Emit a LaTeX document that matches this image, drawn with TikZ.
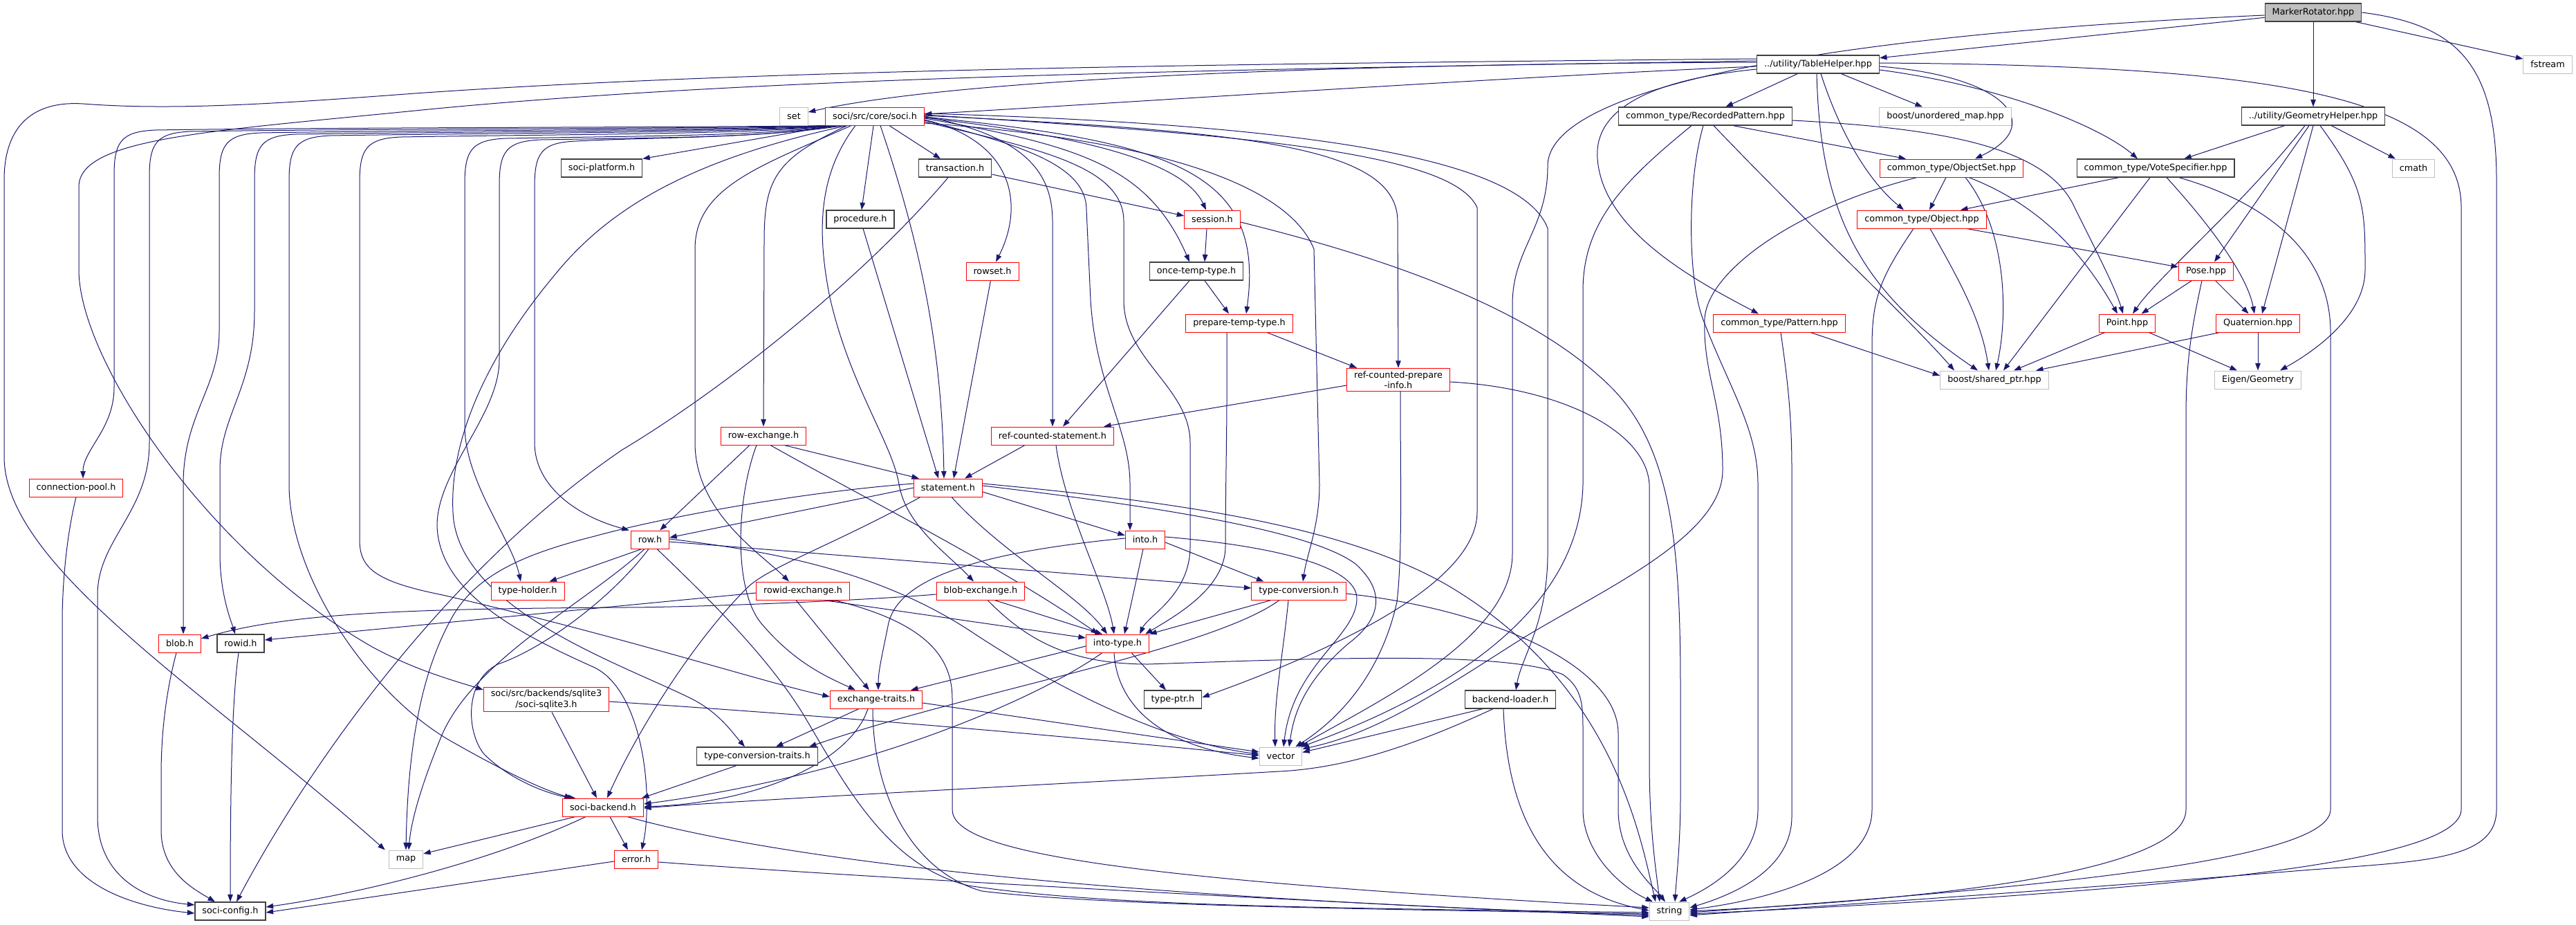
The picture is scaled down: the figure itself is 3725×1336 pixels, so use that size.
\documentclass[tikz,border=0pt]{standalone}
\usepackage{fontspec}
\newfontfamily\dv{DejaVu Sans}
\usetikzlibrary{arrows.meta}
\definecolor{mblue}{HTML}{191970}
\definecolor{dred}{HTML}{FF0000}
\definecolor{dgray}{HTML}{BFBFBF}
\definecolor{dblack}{HTML}{404040}
\definecolor{mrfill}{HTML}{BFBFBF}
\pgfdeclarelayer{bg}
\pgfsetlayers{bg,main}
\tikzset{
  box/.style={draw, line width=1pt, minimum height=26pt, inner xsep=10.5pt, inner ysep=4pt, fill=white, font={\dv\fontsize{12.8}{15.5}\selectfont}, align=center, text=black},
  rb/.style={box, draw=dred},
  kb/.style={box, draw=dblack, line width=1.2pt},
  gb/.style={box, draw=dgray},
  edg/.style={color=mblue, line width=1pt, -{Triangle[length=10.5pt,width=7.5pt]}, line join=round},
}
\begin{document}
\begin{tikzpicture}[x=1pt,y=-1pt]
\useasboundingbox (0,0) rectangle (3725,1336);
% ---------- nodes ----------
\node[kb,fill=mrfill] (MR) at (3345,18) {MarkerRotator.hpp};
\node[gb] (fst) at (3684,93) {fstream};
\node[kb] (TH) at (2629,93) {../utility/TableHelper.hpp};
\node[kb] (GH) at (3345,168) {../utility/GeometryHelper.hpp};
\node[gb] (set) at (1148,168) {set};
\node[rb] (SO) at (1265,168) {soci/src/core/soci.h};
\node[kb] (RP) at (2466,168) {common\_type/RecordedPattern.hpp};
\node[gb] (UM) at (2813,168) {boost/unordered\_map.hpp};
\node[kb] (SP) at (870,243) {soci-platform.h};
\node[kb] (TR) at (1381,243) {transaction.h};
\node[rb] (OS) at (2822,243) {common\_type/ObjectSet.hpp};
\node[kb] (VS) at (3117,243) {common\_type/VoteSpecifier.hpp};
\node[gb] (cm) at (3490,243) {cmath};
\node[kb] (PR) at (1244,317) {procedure.h};
\node[rb] (SE) at (1753,317) {session.h};
\node[rb] (OB) at (2779,317) {common\_type/Object.hpp};
\node[rb] (RS) at (1435,392) {rowset.h};
\node[kb] (OT) at (1730,392) {once-temp-type.h};
\node[rb] (PO) at (3190,392) {Pose.hpp};
\node[rb] (PT) at (1792,467) {prepare-temp-type.h};
\node[rb] (PA) at (2573,467) {common\_type/Pattern.hpp};
\node[rb] (PN) at (3076,467) {Point.hpp};
\node[rb] (QU) at (3265,467) {Quaternion.hpp};
\node[rb] (RCPI) at (2022,549) {ref-counted-prepare\\-info.h};
\node[gb] (SPT) at (2884,549) {boost/shared\_ptr.hpp};
\node[gb] (EG) at (3265,549) {Eigen/Geometry};
\node[rb] (RX) at (1104,630) {row-exchange.h};
\node[rb] (RCS) at (1522,630) {ref-counted-statement.h};
\node[rb] (CP) at (110,705) {connection-pool.h};
\node[rb] (ST) at (1371,705) {statement.h};
\node[rb] (ROW) at (940,780) {row.h};
\node[rb] (INTO) at (1656,780) {into.h};
\node[rb] (THD) at (763,854) {type-holder.h};
\node[rb] (RIX) at (1161,854) {rowid-exchange.h};
\node[rb] (BX) at (1418,854) {blob-exchange.h};
\node[rb] (TC) at (1878,854) {type-conversion.h};
\node[rb] (BLOB) at (260,930) {blob.h};
\node[kb] (RID) at (348,930) {rowid.h};
\node[rb] (IT) at (1616,930) {into-type.h};
\node[rb] (SQL) at (790,1011) {soci/src/backends/sqlite3\\/soci-sqlite3.h};
\node[rb] (EX) at (1267,1011) {exchange-traits.h};
\node[kb] (TP) at (1696,1011) {type-ptr.h};
\node[kb] (BL) at (2184,1011) {backend-loader.h};
\node[kb] (TCT) at (1095,1093) {type-conversion-traits.h};
\node[gb] (VEC) at (1852,1093) {vector};
\node[rb] (SB) at (872,1167) {soci-backend.h};
\node[gb] (MAP) at (587,1242) {map};
\node[rb] (ERR) at (920,1242) {error.h};
\node[kb] (SC) at (333,1317) {soci-config.h};
\node[gb] (STR) at (2414,1317) {string};
% ---------- edges ----------
\begin{pgfonlayer}{bg}
\fill[white] (0,0) rectangle (3725,1336);
% MarkerRotator
\draw[edg] (MR) -- (TH);
\draw[edg] (MR) -- (GH);
\draw[edg] (MR) -- (fst);
\draw[edg] (MR.east) .. controls (3550,35) and (3610,90) .. (3610,260) -- (3610,1170) .. controls (3610,1245) and (3500,1245) .. (3330,1258) .. controls (3000,1285) and (2700,1305) .. ([yshift=-6pt]STR.east);
\draw[edg] ([yshift=-4pt]MR.west) .. controls (2750,45) and (2238,110) .. (2238,240) .. controls (2238,330) and (2187,360) .. (2187,440) -- (2187,800) .. controls (2187,920) and (2000,1010) .. ([xshift=-6pt]VEC.north east);
% TableHelper
\draw[edg] ([yshift=3pt]TH.west) .. controls (2000,92) and (1400,110) .. ([yshift=6pt]set.east);
\draw[edg] ([yshift=-3pt]TH.west) .. controls (2200,110) and (1600,150) .. ([yshift=3pt]SO.east);
\draw[edg] (TH) -- (RP);
\draw[edg] (TH) -- (UM);
\draw[edg] ([yshift=-3pt]TH.east) .. controls (2900,110) and (2960,180) .. ([xshift=34pt]OS.north);
\draw[edg] ([yshift=-8pt]TH.east) .. controls (2900,125) and (3040,185) .. ([xshift=-26pt]VS.north);
\draw[edg] ([xshift=4pt]TH.south) .. controls (2660,190) and (2700,260) .. ([xshift=-26pt]OB.north);
\draw[edg] ([xshift=-2pt]TH.south) .. controls (2632,310) and (2690,420) .. ([xshift=-24pt]SPT.north);
\draw[edg] ([yshift=-7pt]TH.west) .. controls (2360,118) and (2305,170) .. (2310,230) .. controls (2318,330) and (2440,400) .. ([xshift=-30pt]PA.north);
\draw[edg] ([yshift=2pt]TH.east) .. controls (3300,95) and (3559,140) .. (3559,300) -- (3559,1170) .. controls (3559,1250) and (3100,1290) .. ([yshift=-4pt]STR.east);
\draw[edg] ([yshift=8pt]TH.west) .. controls (1800,92) and (1100,100) .. (600,135) .. controls (400,150) and (250,160) .. (120,150) .. controls (40,145) and (6,190) .. (6,260) -- (6,660) .. controls (6,820) and (300,1000) .. ([xshift=-5pt]MAP.north west);
\draw[edg] ([yshift=5pt]TH.west) .. controls (1800,100) and (1100,110) .. (600,160) .. controls (300,190) and (114,200) .. (114,270) -- (114,390) .. controls (114,520) and (300,800) .. (540,936) .. controls (600,968) and (650,982) .. ([yshift=14pt]SQL.west);
% GeometryHelper
\draw[edg] (GH) -- (VS);
\draw[edg] (GH) -- (cm);
\draw[edg] ([xshift=-12pt]GH.south) .. controls (3240,300) and (3120,400) .. ([xshift=8pt]PN.north);
\draw[edg] ([xshift=-6pt]GH.south) -- ([xshift=12pt]PO.north);
\draw[edg] (GH.south) -- ([xshift=6pt]QU.north);
\draw[edg] ([xshift=10pt]GH.south) .. controls (3420,270) and (3420,300) .. (3420,390) .. controls (3420,450) and (3360,500) .. ([xshift=32pt]EG.north);
% RecordedPattern
\draw[edg] ([xshift=40pt]RP.south) -- ([xshift=-66pt]OS.north);
\draw[edg] ([yshift=-6pt]RP.east) .. controls (2800,185) and (2960,210) .. (3000,300) .. controls (3040,380) and (3060,420) .. ([xshift=-6pt]PN.north);
\draw[edg] ([xshift=12pt]RP.south) .. controls (2620,330) and (2760,460) .. ([xshift=-58pt]SPT.north);
\draw[edg] ([xshift=-3pt]RP.south) .. controls (2440,260) and (2440,400) .. (2462,460) .. controls (2500,560) and (2542,620) .. (2542,700) -- (2542,1170) .. controls (2542,1240) and (2480,1280) .. ([xshift=14pt]STR.north);
\draw[edg] ([xshift=-20pt]RP.south) .. controls (2350,260) and (2289,320) .. (2289,420) -- (2289,700) .. controls (2285,880) and (2100,1000) .. ([xshift=-2pt]VEC.north east);
% ObjectSet
\draw[edg] ([xshift=-8pt]OS.south) -- ([xshift=11pt]OB.north);
\draw[edg] ([xshift=20pt]OS.south) .. controls (2900,330) and (2905,450) .. ([xshift=2pt]SPT.north);
\draw[edg] ([xshift=25pt]OS.south) .. controls (2960,300) and (3020,380) .. ([xshift=-14pt]PN.north);
\draw[edg] ([xshift=-50pt]OS.south) .. controls (2600,300) and (2470,390) .. (2465,460) .. controls (2462,540) and (2491,580) .. (2491,680) .. controls (2491,780) and (2300,860) .. (2190,930) .. controls (2080,1000) and (1990,1060) .. ([yshift=-3pt]VEC.north east);
% VoteSpecifier
\draw[edg] ([xshift=-53pt]VS.south) -- ([xshift=56pt]OB.north);
\draw[edg] ([xshift=-8pt]VS.south) -- ([xshift=13pt]SPT.north);
\draw[edg] ([xshift=16pt]VS.south) .. controls (3200,330) and (3250,400) .. ([xshift=-5pt]QU.north);
\draw[edg] ([xshift=34pt]VS.south) .. controls (3300,300) and (3370,380) .. (3370,480) -- (3370,1170) .. controls (3370,1240) and (3000,1280) .. ([yshift=-2pt]STR.east);
% Object
\draw[edg] ([xshift=12pt]OB.south) .. controls (2830,400) and (2865,460) .. ([xshift=-8pt]SPT.north);
\draw[edg] ([xshift=65pt]OB.south) -- ([yshift=6pt]PO.west);
\draw[edg] ([xshift=-12pt]OB.south) .. controls (2720,400) and (2707,430) .. (2707,500) -- (2707,1170) .. controls (2707,1260) and (2560,1300) .. ([yshift=2pt]STR.east);
% Pose, Point, Quaternion, Pattern
\draw[edg] (PO) -- (PN);
\draw[edg] (PO) -- (QU);
\draw[edg] ([xshift=-6pt]PO.south) .. controls (3170,470) and (3161,520) .. (3161,600) -- (3161,1170) .. controls (3161,1260) and (2800,1300) .. (STR.east);
\draw[edg] (PN) -- ([xshift=28pt]SPT.north);
\draw[edg] (PN) -- ([xshift=-30pt]EG.north);
\draw[edg] ([xshift=-55pt]QU.south) -- ([xshift=60pt]SPT.north);
\draw[edg] (QU) -- (EG);
\draw[edg] ([xshift=45pt]PA.south) -- ([yshift=6pt]SPT.west);
\draw[edg] ([xshift=2pt]PA.south) .. controls (2585,550) and (2591,600) .. (2591,680) -- (2591,1180) .. controls (2591,1260) and (2500,1295) .. ([yshift=5pt]STR.east);
% soci.h
\draw[edg] ([xshift=-60pt]SO.south) -- (SP.north east);
\draw[edg] (SO) -- (TR);
\draw[edg] (SO) -- (PR);
\draw[edg] ([yshift=-2pt]SO.east) .. controls (1550,195) and (1710,230) .. ([xshift=-9pt]SE.north);
\draw[edg] ([yshift=-5pt]SO.east) .. controls (1470,205) and (1480,300) .. ([xshift=5pt]RS.north);
\draw[edg] ([yshift=-3pt]SO.east) .. controls (1560,210) and (1660,240) .. ([xshift=-10pt]OT.north);
\draw[edg] ([yshift=-1pt]SO.east) .. controls (1700,205) and (1830,250) .. ([xshift=10pt]PT.north);
\draw[edg] ([yshift=1pt]SO.east) .. controls (1800,190) and (2021,210) .. (2021,320) -- (RCPI.north);
\draw[edg] (SO.east) .. controls (1470,195) and (1522,240) .. (1522,320) -- (RCS.north);
\draw[edg] ([xshift=8pt]SO.south) .. controls (1330,350) and (1362,500) .. ([xshift=-6pt]ST.north);
\draw[edg] ([xshift=-40pt]SO.south) .. controls (1120,230) and (1105,260) .. (1105,350) -- (RX.north);
\draw[edg] ([xshift=-34pt]SO.south) .. controls (1100,240) and (1005,270) .. (1005,360) -- (1005,640) .. controls (1005,740) and (1100,800) .. ([xshift=-20pt]RIX.north);
\draw[edg] ([xshift=-28pt]SO.south) .. controls (1185,250) and (1180,330) .. (1200,430) .. controls (1230,560) and (1290,640) .. (1300,700) .. controls (1310,760) and (1370,800) .. ([xshift=-10pt]BX.north);
\draw[edg] (SO.south west) .. controls (1100,184) and (465,184) .. (225,188) .. controls (175,190) and (165,205) .. (165,254) -- (165,560) .. controls (165,620) and (120,650) .. ([xshift=10pt]CP.north);
\draw[edg] ([xshift=3pt]SO.south west) .. controls (1100,186) and (516,186) .. (276,190) .. controls (226,192) and (216,207) .. (216,256) -- (216,640) .. controls (216,740) and (141,780) .. (141,860) -- (141,1180) .. controls (141,1260) and (200,1300) .. ([yshift=9pt]SC.west);
\draw[edg] ([xshift=6pt]SO.south west) .. controls (1100,188) and (617,188) .. (377,192) .. controls (327,194) and (317,209) .. (317,258) -- (317,480) .. controls (317,560) and (265,600) .. (265,700) -- ([xshift=5pt]BLOB.north);
\draw[edg] ([xshift=9pt]SO.south west) .. controls (1100,190) and (668,190) .. (428,194) .. controls (378,196) and (368,211) .. (368,260) -- (368,450) .. controls (368,560) and (318,600) .. (318,680) -- (318,800) .. controls (318,860) and (335,900) .. ([xshift=-8pt]RID.north);
\draw[edg] ([xshift=12pt]SO.south west) .. controls (1100,192) and (718,192) .. (478,196) .. controls (428,198) and (418,213) .. (418,262) -- (418,700) .. controls (418,830) and (530,1000) .. (650,1070) .. controls (720,1110) and (780,1140) .. ([xshift=-45pt]SB.north);
\draw[edg] ([xshift=15pt]SO.south west) .. controls (1100,194) and (820,194) .. (580,198) .. controls (530,200) and (520,215) .. (520,264) -- (520,780) .. controls (520,820) and (540,840) .. (640,860) .. controls (900,920) and (1100,985) .. ([yshift=4pt]EX.west);
\draw[edg] ([xshift=18pt]SO.south west) .. controls (1100,196) and (972,196) .. (732,200) .. controls (682,202) and (672,217) .. (672,266) -- (672,620) .. controls (675,700) and (740,780) .. ([xshift=-10pt]THD.north);
\draw[edg] ([xshift=21pt]SO.south west) .. controls (1100,198) and (1022,198) .. (782,202) .. controls (732,204) and (722,219) .. (722,268) -- (722,520) .. controls (722,600) and (632,680) .. (632,760) .. controls (635,860) and (760,920) .. (860,965) .. controls (930,1000) and (945,1150) .. ([xshift=8pt]ERR.north);
\draw[edg] ([xshift=27pt]SO.south west) .. controls (1100,200) and (950,198) .. (833,204) .. controls (783,206) and (773,221) .. (773,270) -- (773,640) .. controls (773,700) and (830,745) .. ([xshift=-2pt]ROW.north west);
\draw[edg] ([xshift=32pt]SO.south west) .. controls (1000,230) and (880,300) .. (800,400) .. controls (700,520) and (650,640) .. (655,740) .. controls (660,880) and (900,960) .. (1000,1010) .. controls (1040,1030) and (1060,1060) .. ([xshift=-18pt]TCT.north);
\draw[edg] ([yshift=-6pt]SO.east) .. controls (1480,210) and (1571,240) .. (1571,303) -- (1577,434) .. controls (1585,560) and (1634,620) .. (1634,700) -- ([xshift=-22pt]INTO.north);
\draw[edg] ([yshift=-8pt]SO.east) .. controls (1500,215) and (1625,240) .. (1625,320) -- (1625,434) .. controls (1625,520) and (1721,560) .. (1721,640) -- (1721,790) .. controls (1721,860) and (1660,890) .. ([xshift=-14pt]IT.north east);
\draw[edg] ([yshift=-10pt]SO.east) .. controls (1650,200) and (1860,260) .. (1900,360) -- (1908,700) .. controls (1908,760) and (1890,800) .. ([xshift=6pt]TC.north);
\draw[edg] ([yshift=2pt]SO.east) .. controls (1800,195) and (2100,220) .. (2136,300) -- (2136,740) .. controls (2136,850) and (1900,950) .. ([yshift=3pt]TP.east);
\draw[edg] ([yshift=4pt]SO.east) .. controls (1900,180) and (2200,230) .. (2238,330) -- (2238,800) .. controls (2238,900) and (2200,950) .. ([xshift=8pt]BL.north);
% transaction, procedure, rowset, session
\draw[edg] ([yshift=-9pt]TR.east) -- ([yshift=5pt]SE.west);
\draw[edg] ([xshift=-10pt]TR.south) .. controls (1250,400) and (1050,560) .. (900,650) .. controls (650,820) and (450,1100) .. ([xshift=9pt]SC.north);
\draw[edg] (PR) -- ([xshift=-14pt]ST.north);
\draw[edg] (RS) -- ([xshift=8pt]ST.north);
\draw[edg] ([xshift=-8pt]SE.south) -- ([xshift=12pt]OT.north);
\draw[edg] ([yshift=-4pt]SE.east) .. controls (1950,360) and (2200,430) .. (2330,560) .. controls (2420,650) and (2430,800) .. (2430,1000) -- (2430,1150) .. controls (2430,1220) and (2424,1270) .. ([xshift=8pt]STR.north);
% once-temp, prepare-temp, ref-counted
\draw[edg] ([xshift=12pt]OT.south) -- ([xshift=-15pt]PT.north);
\draw[edg] ([xshift=-10pt]OT.south) -- ([xshift=15pt]RCS.north);
\draw[edg] ([xshift=40pt]PT.south) -- ([xshift=15pt]RCPI.north west);
\draw[edg] ([xshift=-18pt]PT.south) .. controls (1775,600) and (1772,700) .. (1772,790) .. controls (1772,850) and (1700,890) .. ([xshift=-6pt]IT.north east);
\draw[edg] ([yshift=-8pt]RCPI.west) -- ([xshift=-15pt]RCS.north east);
\draw[edg] ([xshift=3pt]RCPI.south) .. controls (2025,700) and (2028,800) .. (2020,870) .. controls (2000,960) and (1950,1030) .. ([xshift=-10pt]VEC.north east);
\draw[edg] ([yshift=-3pt]RCPI.east) .. controls (2250,560) and (2380,620) .. (2385,700) -- (2385,1100) .. controls (2385,1200) and (2395,1260) .. ([xshift=-14pt]STR.north);
\draw[edg] ([xshift=-40pt]RCS.south) -- ([xshift=24pt]ST.north);
\draw[edg] ([xshift=5pt]RCS.south) .. controls (1540,740) and (1600,850) .. ([xshift=-5pt]IT.north);
% row-exchange
\draw[edg] ([xshift=30pt]RX.south) -- ([xshift=8pt]ST.north west);
\draw[edg] ([xshift=-20pt]RX.south) -- ([xshift=-14pt]ROW.north east);
\draw[edg] ([xshift=-10pt]RX.south) .. controls (1065,720) and (1060,850) .. (1100,900) .. controls (1150,960) and (1200,980) .. ([xshift=-30pt]EX.north);
\draw[edg] ([xshift=10pt]RX.south) .. controls (1250,720) and (1450,820) .. ([xshift=-28pt]IT.north);
% statement
\draw[edg] ([yshift=6pt]ST.west) .. controls (1150,712) and (950,750) .. (860,775) .. controls (760,800) and (690,830) .. (655,890) .. controls (615,960) and (590,1060) .. (MAP.north);
\draw[edg] (ST.west) -- ([yshift=3pt]ROW.east);
\draw[edg] ([xshift=-40pt]ST.south) .. controls (1200,790) and (1110,820) .. (1080,850) .. controls (1000,930) and (920,1060) .. ([xshift=6pt]SB.north);
\draw[edg] ([xshift=5pt]ST.south) .. controls (1450,800) and (1560,860) .. ([xshift=-15pt]IT.north);
\draw[edg] ([yshift=-6pt]ST.east) -- ([yshift=6pt]INTO.west);
\draw[edg] ([yshift=6pt]ST.east) .. controls (1700,725) and (1950,760) .. (2100,850) .. controls (2330,990) and (2370,1200) .. ([xshift=-20pt]STR.north);
\draw[edg] ([yshift=3pt]ST.east) .. controls (1700,735) and (1900,770) .. (1960,815) .. controls (2010,860) and (1990,900) .. (1950,930) .. controls (1880,990) and (1870,1040) .. ([xshift=12pt]VEC.north);
% row
\draw[edg] ([xshift=-12pt]ROW.south) -- ([xshift=-22pt]THD.north east);
\draw[edg] ([yshift=-3pt]ROW.east) -- ([yshift=4pt]TC.west);
\draw[edg] ([yshift=1pt]ROW.east) .. controls (1100,795) and (1260,820) .. (1400,910) .. controls (1550,1010) and (1700,1075) .. ([yshift=3pt]VEC.west);
\draw[edg] ([xshift=10pt]ROW.south) .. controls (1030,870) and (1110,950) .. (1160,1030) .. controls (1220,1130) and (1280,1250) .. (1400,1280) .. controls (1600,1310) and (1900,1312) .. ([yshift=-2pt]STR.west);
\draw[edg] ([xshift=-2pt]ROW.south) .. controls (880,870) and (780,940) .. (720,960) .. controls (670,985) and (675,1060) .. (700,1090) .. controls (740,1130) and (800,1150) .. ([xshift=-40pt]SB.north);
\draw[edg] ([xshift=-8pt]ROW.south) .. controls (850,870) and (690,950) .. (640,1060) .. controls (615,1120) and (595,1180) .. ([xshift=4pt]MAP.north);
% into
\draw[edg] ([yshift=2pt]INTO.west) .. controls (1400,800) and (1300,840) .. (1285,900) .. controls (1275,950) and (1270,970) .. ([xshift=3pt]EX.north);
\draw[edg] (INTO) -- ([xshift=10pt]IT.north);
\draw[edg] ([yshift=-4pt]INTO.east) -- ([xshift=18pt]TC.north west);
\draw[edg] ([yshift=4pt]INTO.east) .. controls (1850,790) and (1962,820) .. (1962,865) .. controls (1962,920) and (1870,960) .. ([xshift=4pt]VEC.north);
% rowid-exchange, blob-exchange
\draw[edg] ([yshift=-3pt]RIX.west) -- ([yshift=5pt]RID.east);
\draw[edg] ([xshift=-10pt]RIX.south) -- ([xshift=-10pt]EX.north);
\draw[edg] ([xshift=30pt]RIX.south) -- ([yshift=8pt]IT.west);
\draw[edg] ([xshift=45pt]RIX.south) .. controls (1340,900) and (1377,950) .. (1377,1010) -- (1377,1170) .. controls (1377,1230) and (1600,1270) .. ([yshift=5pt]STR.west);
\draw[edg] ([yshift=-5pt]BX.west) .. controls (1250,868) and (1000,878) .. (900,878) .. controls (600,880) and (420,885) .. ([yshift=7pt]BLOB.east);
\draw[edg] ([xshift=20pt]BX.south) -- ([xshift=-22pt]IT.north);
\draw[edg] ([xshift=10pt]BX.south) .. controls (1480,920) and (1540,960) .. (1660,960) .. controls (1900,952) and (2180,940) .. (2260,975) .. controls (2289,995) and (2289,1020) .. (2289,1060) -- (2289,1170) .. controls (2289,1230) and (2340,1280) .. ([xshift=-24pt]STR.north);
% type-conversion
\draw[edg] ([xshift=-40pt]TC.south) -- (IT.north east);
\draw[edg] ([xshift=-28pt]TC.south) .. controls (1750,940) and (1400,1000) .. ([xshift=75pt]TCT.north);
\draw[edg] ([xshift=-15pt]TC.south) .. controls (1855,950) and (1842,1010) .. ([xshift=-8pt]VEC.north);
\draw[edg] ([yshift=-4pt]TC.east) .. controls (2150,880) and (2340,960) .. (2340,1060) -- (2340,1170) .. controls (2340,1240) and (2390,1280) .. ([xshift=-6pt]STR.north);
% into-type
\draw[edg] ([yshift=-4pt]IT.west) -- ([xshift=50pt]EX.north);
\draw[edg] ([xshift=20pt]IT.south) -- ([xshift=-10pt]TP.north);
\draw[edg] ([xshift=-5pt]IT.south) .. controls (1615,1020) and (1680,1080) .. ([yshift=-3pt]VEC.west);
\draw[edg] ([xshift=-22pt]IT.south) .. controls (1500,1010) and (1250,1120) .. ([yshift=5pt]SB.east);
% exchange-traits, type-conversion-traits, sqlite3
\draw[edg] ([xshift=-25pt]EX.south) -- ([xshift=27pt]TCT.north);
\draw[edg] ([xshift=-12pt]EX.south) .. controls (1230,1100) and (1100,1160) .. ([yshift=1pt]SB.east);
\draw[edg] ([yshift=-5pt]EX.east) -- ([yshift=6pt]VEC.west);
\draw[edg] ([xshift=-5pt]EX.south) .. controls (1262,1150) and (1320,1260) .. (1420,1288) .. controls (1600,1310) and (2000,1314) .. ([yshift=-4pt]STR.west);
\draw[edg] ([xshift=-30pt]TCT.south) -- ([xshift=-3pt]SB.north east);
\draw[edg] ([xshift=8pt]SQL.south) -- ([xshift=-9pt]SB.north);
\draw[edg] ([yshift=-3pt]SQL.east) .. controls (1200,1035) and (1500,1060) .. ([yshift=1pt]VEC.west);
% backend-loader
\draw[edg] ([xshift=-40pt]BL.south) -- ([yshift=-8pt]VEC.north east);
\draw[edg] ([xshift=-25pt]BL.south) .. controls (2050,1075) and (1950,1110) .. (1850,1115) .. controls (1500,1135) and (1100,1155) .. ([yshift=-1pt]SB.east);
\draw[edg] ([xshift=-10pt]BL.south) .. controls (2180,1200) and (2250,1290) .. ([yshift=1pt]STR.west);
% soci-backend, error
\draw[edg] ([xshift=-40pt]SB.south) -- ([yshift=8pt]MAP.east);
\draw[edg] ([xshift=-25pt]SB.south) .. controls (700,1250) and (500,1295) .. ([yshift=6pt]SC.east);
\draw[edg] ([xshift=10pt]SB.south) -- ([xshift=-12pt]ERR.north);
\draw[edg] ([xshift=35pt]SB.south) .. controls (1050,1220) and (1400,1290) .. ([yshift=-6pt]STR.west);
\draw[edg] ([yshift=-3pt]ERR.west) -- ([yshift=-2pt]SC.east);
\draw[edg] ([yshift=-4pt]ERR.east) .. controls (1300,1272) and (2000,1308) .. ([yshift=-8pt]STR.west);
% blob, rowid, connection-pool
\draw[edg] ([xshift=-5pt]BLOB.south) .. controls (240,1000) and (233,1060) .. (233,1120) -- (233,1200) .. controls (233,1260) and (280,1285) .. ([xshift=-22pt]SC.north);
\draw[edg] ([xshift=-3pt]RID.south) .. controls (337,1000) and (333,1100) .. (SC.north);
\draw[edg] (CP.south) .. controls (95,780) and (90,850) .. (90,900) -- (90,1200) .. controls (90,1280) and (200,1312) .. ([yshift=-3pt]SC.west);
\end{pgfonlayer}
\end{tikzpicture}
\end{document}
